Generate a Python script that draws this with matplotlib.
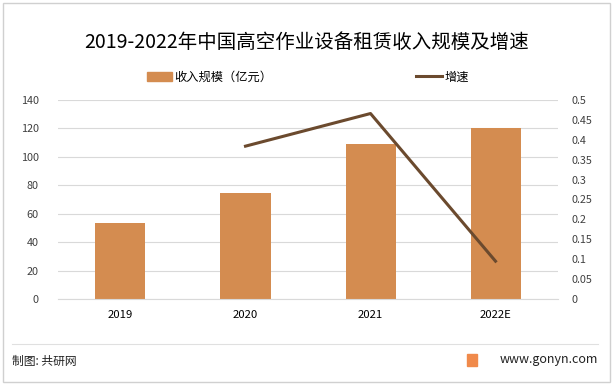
import matplotlib
matplotlib.use('Agg')
import matplotlib.pyplot as plt
from matplotlib.lines import Line2D
from matplotlib.patches import Patch, Rectangle

plt.rcParams['font.family'] = ['Noto Sans CJK SC', 'DejaVu Sans']

years = ['2019', '2020', '2021', '2022E']
revenue = [53.5, 74.8, 109.3, 120.5]
growth_years = ['2020', '2021', '2022E']
growth = [0.384, 0.466, 0.095]

bar_color = '#D48C50'
line_color = '#6B4A2E'

fig = plt.figure(figsize=(6.13, 3.85), dpi=100)
ax = fig.add_axes([0.0946, 0.2234, 0.8157, 0.5169])
ax2 = ax.twinx()

x = list(range(len(years)))
ax.bar(x, revenue, width=0.4, color=bar_color, zorder=2)
gx = [years.index(y) for y in growth_years]
ax2.plot(gx, growth, color=line_color, linewidth=2.2, zorder=3)

ax.set_xlim(-0.5, 3.5)
ax.set_ylim(0, 140)
ax.set_yticks(range(0, 141, 20))
ax2.set_ylim(0, 0.5)
ax2.set_yticks([i * 0.05 for i in range(11)])
ax2.set_yticklabels(['0', '0.05', '0.1', '0.15', '0.2', '0.25', '0.3', '0.35',
                     '0.4', '0.45', '0.5'])
ax.set_xticks(x)
ax.set_xticklabels(years)

ax.grid(axis='y', color='#D9D9D9', linewidth=0.8, zorder=0)
for a in (ax, ax2):
    for s in a.spines.values():
        s.set_visible(False)
    a.tick_params(length=0, labelsize=7.8, colors='#404040')
ax.spines['bottom'].set_visible(True)
ax.spines['bottom'].set_color('#D9D9D9')
ax.tick_params(axis='y', pad=14)
ax2.tick_params(axis='y', pad=10)
ax.tick_params(axis='x', pad=8, labelcolor='black', labelsize=8.2)

fig.text(0.5, 0.89, '2019-2022年中国高空作业设备租赁收入规模及增速',
         ha='center', va='center', fontsize=14, color='black')

handles = [Patch(color=bar_color), Line2D([0], [0], color=line_color, linewidth=2.2)]
fig.legend(handles[:1], ['收入规模（亿元）'], loc='center left',
           bbox_to_anchor=(0.222, 0.80), frameon=False, fontsize=8.8,
           handlelength=2.0, handleheight=0.7, handletextpad=0.2)
fig.legend(handles[1:], ['增速'], loc='center left',
           bbox_to_anchor=(0.66, 0.80), frameon=False, fontsize=8.8,
           handlelength=2.2, handletextpad=0.2)

# footer
fig.add_artist(Line2D([0.02, 0.975], [0.107, 0.107], color='#E0E0E0', linewidth=0.8))
fig.text(0.02, 0.062, '制图: 共研网', fontsize=8.5, va='center', color='#222222')
fig.text(0.975, 0.065, 'www.gonyn.com', fontsize=9, va='center', ha='right', color='#222222')
fig.add_artist(Rectangle((0.762, 0.05), 0.016, 0.03, color='#F08A4B', transform=fig.transFigure))
fig.add_artist(Rectangle((0.005, 0.008), 0.99, 0.985, fill=False, edgecolor='#D0D0D0',
                         linewidth=1.0, transform=fig.transFigure))

fig.savefig('out.png', dpi=100)
